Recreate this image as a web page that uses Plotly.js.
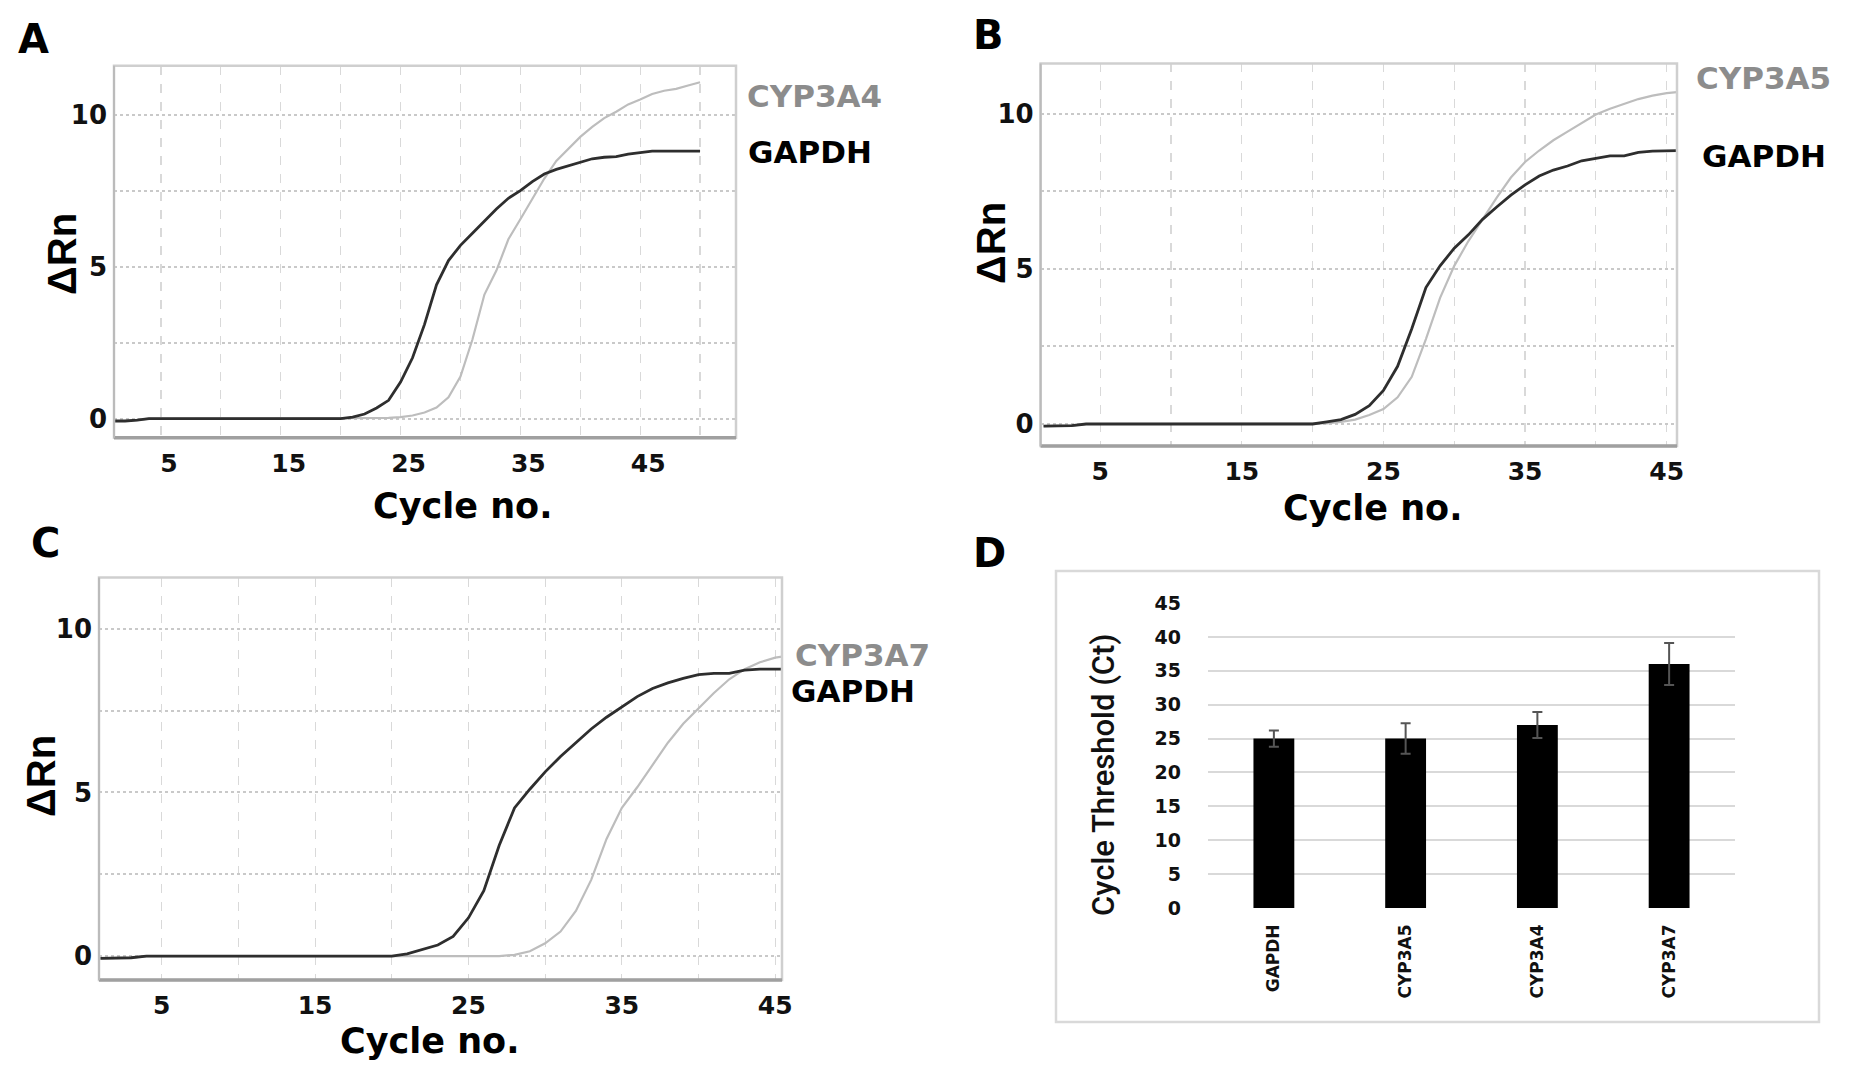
<!DOCTYPE html>
<html>
<head>
<meta charset="utf-8">
<script src="https://cdn.plot.ly/plotly-3.0.1.min.js"></script>
<style>html,body{margin:0;padding:0;background:#fff;}#chart{width:1850px;height:1075px;}</style>
</head>
<body>
<div id="chart"></div>
<script>
// ---------- DATA ----------
const cyclesA = [1,2,3,4,5,6,7,8,9,10,11,12,13,14,15,16,17,18,19,20,21,22,23,24,25,26,27,28,29,30,31,32,33,34,35,36,37,38,39,40,41,42,43,44,45,46,47,48,49,50];
const gapdhA = [-0.08,-0.08,-0.05,0,0,0,0,0,0,0,0,0,0,0,0,0,0,0,0,0,0.05,0.15,0.35,0.6,1.2,2.0,3.1,4.4,5.2,5.7,6.1,6.5,6.9,7.25,7.5,7.8,8.05,8.2,8.32,8.45,8.55,8.6,8.62,8.7,8.75,8.8,8.8,8.8,8.8,8.8];
const cyp3a4A = [-0.08,-0.08,-0.05,0,0,0,0,0,0,0,0,0,0,0,0,0,0,0,0,0,0,0,0,0.02,0.05,0.1,0.2,0.36,0.7,1.38,2.6,4.08,4.87,5.9,6.56,7.24,7.9,8.48,8.87,9.27,9.6,9.89,10.1,10.34,10.5,10.68,10.79,10.85,10.96,11.07];

const cyclesB = [1,2,3,4,5,6,7,8,9,10,11,12,13,14,15,16,17,18,19,20,21,22,23,24,25,26,27,28,29,30,31,32,33,34,35,36,37,38,39,40,41,42,43,44,45,46];
const gapdhB = [-0.07,-0.07,-0.05,0,0,0,0,0,0,0,0,0,0,0,0,0,0,0,0,0,0.07,0.14,0.31,0.59,1.08,1.86,3.07,4.4,5.1,5.67,6.1,6.6,7.0,7.38,7.71,8.0,8.19,8.32,8.49,8.57,8.65,8.65,8.76,8.8,8.8,8.82];
const cyp3a5B = [-0.07,-0.07,-0.05,0,0,0,0,0,0,0,0,0,0,0,0,0,0,0,0,0,0.02,0.07,0.14,0.29,0.48,0.86,1.52,2.74,4.07,5.1,5.9,6.6,7.3,7.95,8.45,8.82,9.15,9.43,9.7,9.98,10.17,10.33,10.48,10.59,10.67,10.72];

const cyclesC = [1,2,3,4,5,6,7,8,9,10,11,12,13,14,15,16,17,18,19,20,21,22,23,24,25,26,27,28,29,30,31,32,33,34,35,36,37,38,39,40,41,42,43,44,45,46];
const gapdhC = [-0.07,-0.07,-0.05,0,0,0,0,0,0,0,0,0,0,0,0,0,0,0,0,0,0.07,0.2,0.34,0.6,1.17,2.0,3.38,4.53,5.1,5.63,6.1,6.52,6.94,7.3,7.62,7.93,8.18,8.35,8.49,8.6,8.64,8.64,8.74,8.77,8.77,8.77];
const cyp3a7C = [-0.07,-0.07,-0.05,0,0,0,0,0,0,0,0,0,0,0,0,0,0,0,0,0,0,0,0,0,0,0,0,0.04,0.15,0.39,0.75,1.38,2.33,3.58,4.53,5.16,5.84,6.52,7.1,7.57,8.04,8.46,8.77,8.98,9.12,9.2];

const genesD = ["GAPDH","CYP3A5","CYP3A4","CYP3A7"];
const ctD = [25.0, 25.0, 27.0, 36.0];
const ctErrD = [1.2, 2.25, 1.9, 3.1];

const xTickVals = [5,15,25,35,45];
const xTickText = ["5","15","25","35","45"];
const yTickVals = [0,5,10];
const yTickText = ["0","5","10"];

// ---------- STYLE ----------
const F = "DejaVu Sans";
const W = 1850, H = 1075;
const px = v => v / W;
const py = v => 1 - v / H;
const darkLine = {color:'#2e2e2e', width:2.8};
const lightLine = {color:'#bdbdbd', width:2.2};

function lineXAxis(dom, range, anchor, shift){
  return {
    domain: dom, range: range, anchor: anchor,
    tickmode:'array', tickvals: xTickVals, ticktext: xTickText,
    ticks:'', showline:false, zeroline:false,
    showgrid:true, gridcolor:'#d9d9d9', gridwidth:1.2, griddash:'dash',
    minor:{tick0:0, dtick:5, showgrid:true, gridcolor:'#d9d9d9', gridwidth:1.2, griddash:'dash', ticks:''},
    tickfont:{family:F, size:25, color:'#111', weight:700},
    ticklabelstandoff: 8, ticklabelshift: shift||0, fixedrange:true
  };
}
function lineYAxis(dom, range, anchor){
  return {
    domain: dom, range: range, anchor: anchor,
    tickmode:'array', tickvals: yTickVals, ticktext: yTickText,
    ticks:'', showline:false, zeroline:false,
    showgrid:true, gridcolor:'#c9c9c9', gridwidth:2, griddash:'dot',
    minor:{dtick:2.5, tick0:0, showgrid:true, gridcolor:'#c9c9c9', gridwidth:2, griddash:'dot', ticks:''},
    tickfont:{family:F, size:26, color:'#111', weight:700},
    ticklabelstandoff: 6, fixedrange:true
  };
}

const traces = [
  {x:cyclesA, y:cyp3a4A, xaxis:'x', yaxis:'y', mode:'lines', line:lightLine, hoverinfo:'skip'},
  {x:cyclesA, y:gapdhA, xaxis:'x', yaxis:'y', mode:'lines', line:darkLine, hoverinfo:'skip'},
  {x:cyclesB, y:cyp3a5B, xaxis:'x2', yaxis:'y2', mode:'lines', line:lightLine, hoverinfo:'skip'},
  {x:cyclesB, y:gapdhB, xaxis:'x2', yaxis:'y2', mode:'lines', line:darkLine, hoverinfo:'skip'},
  {x:cyclesC, y:cyp3a7C, xaxis:'x3', yaxis:'y3', mode:'lines', line:lightLine, hoverinfo:'skip'},
  {x:cyclesC, y:gapdhC, xaxis:'x3', yaxis:'y3', mode:'lines', line:darkLine, hoverinfo:'skip'},
  {type:'bar', x:genesD, y:ctD, xaxis:'x4', yaxis:'y4', width:0.31,
   marker:{color:'#000000', line:{color:'#000', width:0}},
   error_y:{type:'data', array:ctErrD, visible:true, color:'#555555', thickness:2, width:5},
   hoverinfo:'skip'}
];

const domA = {x:[px(114), px(736)], y:[py(437.7), py(65.8)]};
const domB = {x:[px(1040.6), px(1677)], y:[py(446), py(63.4)]};
const domC = {x:[px(99), px(782)], y:[py(980), py(577.5)]};
const domD = {x:[px(1208), px(1735)], y:[py(908), py(603)]};

function frame(xr, yr){
  return [
    {type:'rect', xref:xr+' domain', yref:yr+' domain', x0:0, x1:1, y0:0, y1:1, line:{color:'#cfcfcf', width:2.5}, layer:'above'},
    {type:'line', xref:xr+' domain', yref:yr+' domain', x0:0, x1:1, y0:0, y1:0, line:{color:'#a0a0a0', width:3.5}, layer:'above'},
    {type:'line', xref:xr+' domain', yref:yr+' domain', x0:0, x1:0, y0:0, y1:1, line:{color:'#bbbbbb', width:2}, layer:'above'}
  ];
}

function ann(text, x, y, opts){
  return Object.assign({text:text, x:px(x), y:py(y), xref:'paper', yref:'paper', showarrow:false,
    xanchor:'center', yanchor:'middle',
    font:{family:F, size:35, color:'#000', weight:700}}, opts||{});
}

const annotations = [
  ann('A', 33, 39, {font:{family:F, size:40, color:'#000', weight:700}}),
  ann('B', 988, 35, {font:{family:F, size:40, color:'#000', weight:700}}),
  ann('C', 45, 543, {font:{family:F, size:40, color:'#000', weight:700}}),
  ann('D', 989, 553, {font:{family:F, size:40, color:'#000', weight:700}}),
  ann('ΔRn', 62, 254, {textangle:-90, font:{family:'Liberation Sans', size:40, color:'#000', weight:700}}),
  ann('ΔRn', 991, 243, {textangle:-90, font:{family:'Liberation Sans', size:40, color:'#000', weight:700}}),
  ann('ΔRn', 41, 776, {textangle:-90, font:{family:'Liberation Sans', size:40, color:'#000', weight:700}}),
  ann('Cycle no.', 462, 506),
  ann('Cycle no.', 1372, 508),
  ann('Cycle no.', 429, 1041),
  ann('CYP3A4', 745, 96, {xanchor:'left', font:{family:F, size:31, color:'#8c8c8c', weight:700}}),
  ann('GAPDH', 746, 152, {xanchor:'left', font:{family:F, size:31, color:'#000', weight:700}}),
  ann('CYP3A5', 1694, 78, {xanchor:'left', font:{family:F, size:31, color:'#8c8c8c', weight:700}}),
  ann('GAPDH', 1700, 156, {xanchor:'left', font:{family:F, size:31, color:'#000', weight:700}}),
  ann('CYP3A7', 793, 655, {xanchor:'left', font:{family:F, size:31, color:'#8c8c8c', weight:700}}),
  ann('GAPDH', 789, 691, {xanchor:'left', font:{family:F, size:31, color:'#000', weight:700}}),
  ann('Cycle Threshold (Ct)', 1103, 775, {textangle:-90, font:{family:'Roboto', size:31, color:'#111', weight:500}})
];

const shapes = [].concat(
  frame('x','y'), frame('x2','y2'), frame('x3','y3'),
  [{type:'rect', xref:'paper', yref:'paper', x0:px(1056), x1:px(1819), y0:py(1022), y1:py(571), line:{color:'#d9d9d9', width:2.5}, layer:'below'}]
);

const layout = {
  width: W, height: H, margin:{l:0, r:0, t:0, b:0},
  paper_bgcolor:'#ffffff', plot_bgcolor:'rgba(0,0,0,0)',
  showlegend:false,
  xaxis: lineXAxis(domA.x, [1.08, 53.0], 'y', 8),
  yaxis: lineYAxis(domA.y, [-0.63, 11.61], 'x'),
  xaxis2: lineXAxis(domB.x, [0.79, 45.73], 'y2', 0),
  yaxis2: lineYAxis(domB.y, [-0.71, 11.63], 'x2'),
  xaxis3: lineXAxis(domC.x, [0.91, 45.44], 'y3', 0),
  yaxis3: lineYAxis(domC.y, [-0.73, 11.57], 'x3'),
  xaxis4: {domain: domD.x, anchor:'y4', type:'category', range:[-0.5, 3.5],
    showgrid:false, showline:false, zeroline:false, ticks:'', tickangle:-90,
    tickfont:{family:F, size:17, color:'#111', weight:700}, ticklabelstandoff:12, fixedrange:true},
  yaxis4: {domain: domD.y, anchor:'x4', range:[0, 45], dtick:5, tick0:0,
    showgrid:true, gridcolor:'#d9d9d9', gridwidth:2, showline:false, zeroline:false, ticks:'',
    tickfont:{family:F, size:19, color:'#111', weight:700}, ticklabelstandoff:26, fixedrange:true},
  annotations: annotations,
  shapes: shapes
};

Plotly.newPlot('chart', traces, layout, {staticPlot:true, displayModeBar:false});
</script>
</body>
</html>
